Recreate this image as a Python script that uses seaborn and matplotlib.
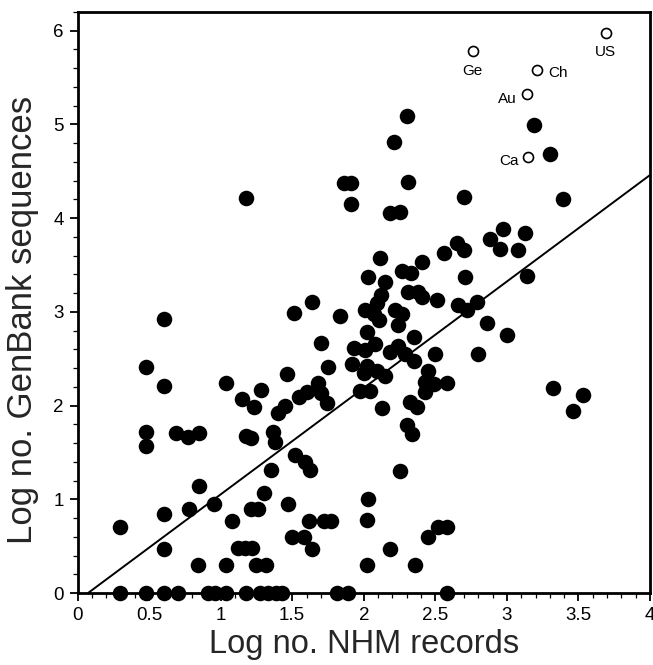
import numpy as np
import pandas as pd
import matplotlib
matplotlib.use("Agg")
import matplotlib.pyplot as plt
from matplotlib.ticker import MultipleLocator, FormatStrFormatter
import seaborn as sns

# ---- data ----
nhm_x = [
    2.30, 2.21, 3.19, 3.30, 1.86, 1.91, 2.31, 1.18, 1.91, 2.70, 3.39, 2.18, 2.25,
    2.97, 2.88, 3.13, 2.95, 3.08, 2.65, 2.70, 2.56, 2.115, 2.41, 2.27, 2.33, 2.03,
    2.145, 2.71, 3.14, 2.12, 2.09, 2.01, 2.07, 2.11, 2.31, 2.38, 2.41, 2.51, 2.22,
    2.27, 2.24, 2.66, 2.72, 2.79, 2.86, 3.00, 2.80, 1.635, 1.51, 1.835, 0.605, 1.70,
    2.02, 1.93, 2.01, 2.08, 2.35, 2.24, 2.18, 2.29, 2.35, 2.50, 0.48, 1.75, 1.92,
    2.02, 2.00, 2.09, 2.15, 2.45, 2.43, 2.49, 2.58, 2.43, 1.975, 2.045, 2.13, 2.325,
    2.37, 2.30, 2.34, 3.32, 3.53, 3.46, 0.605, 1.04, 1.465, 1.68, 1.70, 1.74, 1.545,
    1.60, 1.28, 1.15, 1.23, 1.40, 1.45,
    0.48, 0.48, 0.69, 0.775, 0.85, 1.18, 1.21, 1.365, 1.38, 1.52, 1.59, 1.625, 1.35,
    2.25, 0.85, 1.30, 0.957, 0.605, 0.78, 1.21, 1.26, 1.47, 1.08, 1.62, 1.72, 1.77,
    2.03, 2.02, 0.30, 0.605, 1.12, 1.17, 1.22, 1.50, 1.58, 1.64, 2.18, 0.845, 1.04,
    1.25, 1.32, 2.02, 2.36, 2.45, 2.52, 2.58,
    0.30, 0.48, 0.605, 0.70, 0.91, 0.96, 1.04, 1.18, 1.275, 1.33, 1.39, 1.43, 1.81,
    1.89, 2.58,
]
genbank_y = [
    5.09, 4.81, 4.99, 4.69, 4.38, 4.38, 4.39, 4.21, 4.15, 4.23, 4.20, 4.05, 4.07,
    3.88, 3.78, 3.84, 3.67, 3.66, 3.73, 3.66, 3.63, 3.57, 3.53, 3.44, 3.41, 3.37,
    3.32, 3.37, 3.38, 3.18, 3.09, 3.02, 2.98, 2.91, 3.21, 3.21, 3.16, 3.13, 3.02,
    2.98, 2.86, 3.07, 3.02, 3.11, 2.88, 2.75, 2.555, 3.11, 2.99, 2.96, 2.92, 2.67,
    2.78, 2.61, 2.59, 2.66, 2.73, 2.64, 2.57, 2.55, 2.48, 2.55, 2.41, 2.41, 2.44,
    2.42, 2.35, 2.37, 2.32, 2.37, 2.25, 2.23, 2.24, 2.15, 2.16, 2.16, 1.97, 2.04,
    1.98, 1.79, 1.70, 2.19, 2.11, 1.94, 2.21, 2.24, 2.34, 2.24, 2.13, 2.03, 2.09,
    2.15, 2.17, 2.07, 1.98, 1.92, 2.00,
    1.72, 1.57, 1.71, 1.67, 1.71, 1.68, 1.65, 1.72, 1.61, 1.47, 1.40, 1.31, 1.31,
    1.30, 1.14, 1.07, 0.95, 0.84, 0.90, 0.90, 0.90, 0.95, 0.77, 0.77, 0.77, 0.77,
    1.00, 0.78, 0.70, 0.47, 0.475, 0.475, 0.475, 0.60, 0.60, 0.47, 0.47, 0.30, 0.30,
    0.30, 0.30, 0.30, 0.30, 0.60, 0.70, 0.70,
    0, 0, 0, 0, 0, 0, 0, 0, 0, 0, 0, 0, 0,
    0, 0,
]

country_labels = ["Ge", "US", "Ch", "Au", "Ca"]
country_x = [2.76, 3.69, 3.21, 3.14, 3.15]
country_y = [5.78, 5.98, 5.58, 5.32, 4.65]

fit_x = [0.074, 4.0]
fit_y = [0.0, 4.46]

x_ticks = [0, 0.5, 1, 1.5, 2, 2.5, 3, 3.5, 4]
y_ticks = [0, 1, 2, 3, 4, 5, 6]

# ---- figure ----
sns.set_theme(style="ticks")
plt.rcParams["font.family"] = ["Liberation Sans", "DejaVu Sans"]

W, H = 653, 665
fig = plt.figure(figsize=(W / 100, H / 100), dpi=100)
ax = fig.add_axes([77.5 / W, (H - 593) / H, (650 - 77.5) / W, (593 - 12) / H])

pts = pd.DataFrame({"nhm": nhm_x, "gb": genbank_y})
sns.scatterplot(data=pts, x="nhm", y="gb", ax=ax, color="black", s=125,
                edgecolor="black", linewidth=0, clip_on=False, zorder=4)

ctry = pd.DataFrame({"nhm": country_x, "gb": country_y, "lab": country_labels})
sns.scatterplot(data=ctry, x="nhm", y="gb", ax=ax, facecolor="white", s=52,
                edgecolor="black", linewidth=1.2, zorder=5)

line = pd.DataFrame({"x": fit_x, "y": fit_y})
sns.lineplot(data=line, x="x", y="y", ax=ax, color="black", linewidth=1.4, zorder=3)

offsets = {"Ge": (0, -14, "center"), "US": (0, -14, "center"),
           "Ch": (15, -2, "center"), "Au": (-14, -3, "center"), "Ca": (-14, -3, "center")}
for lab, xx, yy in zip(country_labels, country_x, country_y):
    dx, dy, ha = offsets[lab]
    ax.annotate(lab, (xx, yy), xytext=(dx, dy), textcoords="offset points",
                ha=ha, va="center", fontsize=11, color="black")

ax.set_xlim(0, 4)
ax.set_ylim(0, 6.2)
ax.set_xticks(x_ticks)
ax.set_yticks(y_ticks)
ax.xaxis.set_major_formatter(FormatStrFormatter("%g"))
ax.yaxis.set_major_formatter(FormatStrFormatter("%g"))
ax.xaxis.set_minor_locator(MultipleLocator(0.1))
ax.yaxis.set_minor_locator(MultipleLocator(0.2))
ax.tick_params(axis="both", which="major", direction="out", length=6, width=1.3,
               labelsize=13.5, colors="black", pad=4)
ax.tick_params(axis="both", which="minor", direction="out", length=3.5, width=0.9,
               colors="black")
for sp in ax.spines.values():
    sp.set_visible(True)
    sp.set_linewidth(2)
    sp.set_color("black")

ax.set_xlabel("Log no. NHM records", fontsize=23.5, labelpad=4)
ax.set_ylabel("Log no. GenBank sequences", fontsize=25, labelpad=10)
ax.yaxis.label.set_y(0.47)

fig.savefig("out.png", dpi=100, facecolor="white")
